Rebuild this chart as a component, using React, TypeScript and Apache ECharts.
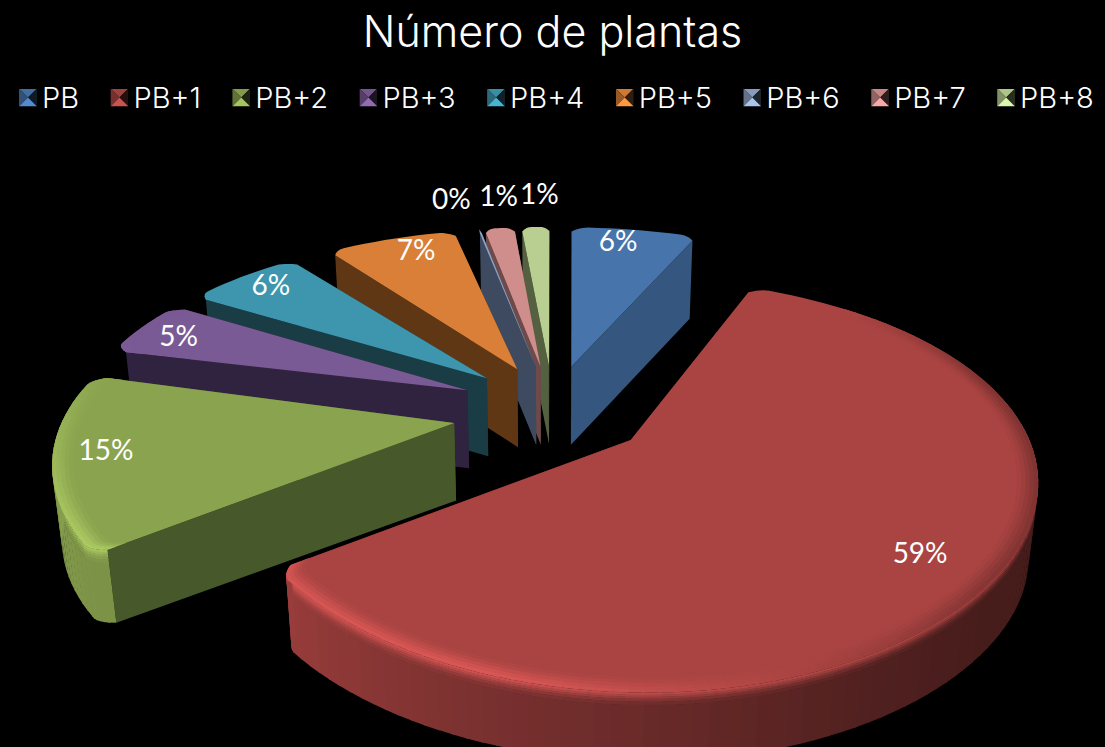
import React, { useEffect, useRef } from "react";
import * as echarts from "echarts";

const categories = ["PB", "PB+1", "PB+2", "PB+3", "PB+4", "PB+5", "PB+6", "PB+7", "PB+8"];
const values = [6.3, 59.0, 14.5, 5.0, 5.8, 6.5, 0.1, 1.5, 1.4];
const labels = ["6%", "59%", "15%", "5%", "6%", "7%", "0%", "1%", "1%"];
const faceColors = ["#4674ab", "#a94442", "#8aa34f", "#7a5a94", "#3d96ae", "#d97f38", "#8ea3c5", "#cf8e8c", "#b8cf91"];
const sideColors = ["#34567f", "#6b2a28", "#47582a", "#2f2340", "#1a3c45", "#5f3715", "#3d4a60", "#6f4a4a", "#546040"];

// label placement (fraction of radius along the slice's middle, then a nudge in px)
const labelRadius = [0.9, 0.84, 0.87, 0.88, 0.88, 0.78, 1.1, 1.1, 1.1];
const labelNudge = [[-11, -2], [-6, -5], [0, -7], [0, 0], [3, -4], [1, -15], [-23, -20], [3, -22], [5, -23]];
// small view-dependent corrections per slice (degrees of turn, and plane offsets)
const sliceTurn = [0.5, 0, -2, -3.5, -3.5, -1.5, 0, 0, 0];
const sliceShift = [[0, 0], [0, 0], [-0.005, 0.03], [0, 0], [0, 0], [0, 0], [0, 0], [0, 0], [0, 0]];

// projection of the pie's plane
const CX = 553, CY = 410, KX = 388, LY = 185, PX = 0.17, PY = 0.21;
const EXPLODE = 0.25, HEIGHT = 78, BOTTOM_X = 0.98, BEVEL = 0.95, STEP = 2;
const ROUND = 0.035, ROUND_SPAN = 3;

const wallTable = [[0, 0.6], [60, 0.45], [90, 0.42], [130, 0.42], [150, 0.47], [180, 0.62], [200, 0.72], [234, 0.9], [270, 1], [300, 0.95], [360, 0.7]];
const hiTable = [[0, 1], [90, 0.98], [120, 1.02], [150, 1.08], [180, 1.18], [200, 1.28], [234, 1.25], [260, 1.12], [290, 1], [360, 1]];
const wallBands = [[0, 0.03, 0.15], [0.03, 0.06, 0.35], [0.06, 0.09, 0.55], [0.09, 0.13, 0.75], [0.13, 0.18, 0.92], [0.18, 1, 1]];
const bevelBands = [[BEVEL, 0.96, 0.1], [0.96, 0.97, 0.3], [0.97, 0.98, 0.55], [0.98, 0.99, 0.8], [0.99, 1, 1]];

const lookup = (t: number[][], a: number) => {
  for (let i = 1; i < t.length; i++) {
    if (a <= t[i][0]) {
      const f = (a - t[i - 1][0]) / (t[i][0] - t[i - 1][0]);
      return t[i - 1][1] + f * (t[i][1] - t[i - 1][1]);
    }
  }
  return t[t.length - 1][1];
};
const rgb = (h: string) => [1, 3, 5].map((i) => parseInt(h.slice(i, i + 2), 16));
const css = (c: number[]) => `rgb(${c.map((x) => Math.max(0, Math.min(255, Math.round(x)))).join(",")})`;
const scale = (c: number[], m: number) => c.map((x) => x * m);
const mix = (a: number[], b: number[], f: number) => a.map((x, i) => x + (b[i] - x) * f);
const rad = (d: number) => (d * Math.PI) / 180;
const clamp01 = (x: number) => Math.max(0, Math.min(1, x));

const total = values.reduce((a, b) => a + b, 0);
type Slice = { i: number; a0: number; a1: number; mid: number };
const slices: Slice[] = (() => {
  let acc = 0;
  return values.map((v, i) => {
    const a0 = (acc / total) * 360;
    acc += v;
    const a1 = (acc / total) * 360;
    return { i, a0, a1, mid: (a0 + a1) / 2 };
  });
})();
const drawOrder = [...slices].sort((a, b) => Math.cos(rad(b.mid)) - Math.cos(rad(a.mid)));

const pointOf = (s: Slice, ang: number, r: number, h = 0) => {
  const u = EXPLODE * Math.sin(rad(s.mid)) + sliceShift[s.i][0] + r * Math.sin(rad(ang));
  const v = -EXPLODE * Math.cos(rad(s.mid)) + sliceShift[s.i][1] - r * Math.cos(rad(ang));
  let x = KX * u / (1 - PX * v);
  const y = CY + (LY * v) / (1 - PY * v) + h * HEIGHT * (1 - 0.1 * Math.max(v, 0));
  x = CX + x * (1 - h * (1 - BOTTOM_X));
  return [x, y];
};

const poly = (points: number[][], fill: string) => ({
  type: "polygon",
  silent: true,
  shape: { points },
  style: { fill },
});

const iconFor = (hex: string) => {
  const c = rgb(hex);
  const s = `<svg xmlns="http://www.w3.org/2000/svg" width="18" height="18"><polygon points="0,0 18,0 9,9" fill="${css(scale(c, 0.95))}"/><polygon points="0,0 9,9 0,18" fill="${css(scale(c, 0.7))}"/><polygon points="18,0 18,18 9,9" fill="${css(scale(c, 0.22))}"/><polygon points="0,18 18,18 9,9" fill="${css(scale(c, 1.2))}"/></svg>`;
  return "image://data:image/svg+xml;base64," + btoa(s);
};

const renderSlice = (s: Slice) => (_p: any, api: any) => {
  const share = api.value(0) / total;
  const a0 = s.a0 + sliceTurn[s.i];
  const a1 = a0 + share * 360;
  const face = rgb(faceColors[s.i]);
  const side = sideColors[s.i];
  const children: any[] = [];
  const apex = pointOf(s, 0, 0);
  const apexB = pointOf(s, 0, 0, 1);

  const span = Math.min(ROUND_SPAN, (a1 - a0) / 3);
  const rimR = (t: number) => {
    const d = Math.min(t - a0, a1 - t);
    const q = clamp01(1 - d / span);
    return 1 - ROUND * q * q;
  };

  const wide = a1 - a0 > 2 * span + STEP;
  const angs: number[] = [];
  if (wide) {
    for (let k = 0; k < 6; k++) angs.push(a0 + (span * k) / 6);
    const mids = Math.ceil((a1 - a0 - 2 * span) / STEP);
    for (let k = 0; k < mids; k++) angs.push(a0 + span + ((a1 - a0 - 2 * span) * k) / mids);
    for (let k = 0; k <= 6; k++) angs.push(a1 - span + (span * k) / 6);
  } else {
    const n = Math.max(2, Math.ceil((a1 - a0) / 0.5));
    for (let k = 0; k <= n; k++) angs.push(a0 + ((a1 - a0) * k) / n);
  }
  const n = angs.length - 1;

  children.push(poly([apex, pointOf(s, a0, rimR(a0)), pointOf(s, a0, rimR(a0), 1), apexB], side));
  children.push(poly([apex, pointOf(s, a1, rimR(a1)), pointOf(s, a1, rimR(a1), 1), apexB], side));

  for (let k = 0; k < n; k++) {
    const t0 = angs[k], m = (t0 + angs[k + 1]) / 2;
    if (m < 85 || m > 282) continue;
    const t1 = Math.min(a1, angs[k + 1] + 0.25);
    const r0 = rimR(t0), r1 = rimR(t1);
    const hi = scale(face, lookup(hiTable, m));
    const wall = scale(face, lookup(wallTable, m));
    for (const [h0, h1, f] of wallBands) {
      const hb = Math.min(1, h1 + 0.008);
      children.push(poly([pointOf(s, t0, r0, h0), pointOf(s, t1, r1, h0), pointOf(s, t1, r1, hb), pointOf(s, t0, r0, hb)], css(mix(hi, wall, f))));
    }
  }

  children.push(poly([apex, ...angs.map((t) => pointOf(s, t, rimR(t)))], faceColors[s.i]));

  for (let k = 0; k < n; k++) {
    const t0 = angs[k], m = (t0 + angs[k + 1]) / 2;
    if (m < 40 || m > 300) continue;
    const t1 = Math.min(a1, angs[k + 1] + 0.25);
    const r0 = rimR(t0), r1 = rimR(t1);
    const hi = scale(face, lookup(hiTable, m));
    const wall = scale(face, lookup(wallTable, m));
    const edge = mix(hi, wall, 0.4 * clamp01((190 - m) / 60));
    const fade = clamp01((m - 40) / 30) * clamp01((300 - m) / 20);
    for (const [b0, b1, f] of bevelBands) {
      const bb = b1 < 1 ? b1 + 0.002 : 1;
      children.push(poly([pointOf(s, t0, b0 * r0), pointOf(s, t1, b0 * r1), pointOf(s, t1, bb * r1), pointOf(s, t0, bb * r0)], css(mix(face, edge, f * fade))));
    }
  }

  const [lx, ly] = pointOf(s, (a0 + a1) / 2, labelRadius[s.i]);
  children.push({
    type: "text",
    silent: true,
    style: {
      x: lx + labelNudge[s.i][0],
      y: ly + labelNudge[s.i][1],
      text: labels[s.i],
      fill: "#ffffff",
      font: '28px Lato, "Noto Sans", sans-serif',
      align: "center",
      verticalAlign: "middle",
    },
  });
  return { type: "group", children };
};

export default function App() {
  const ref = useRef<HTMLDivElement>(null);
  useEffect(() => {
    document.body.style.margin = "0";
    document.body.style.background = "#000";
    const chart = echarts.init(ref.current!, undefined, { renderer: "svg" });
    chart.setOption({
      animation: false,
      backgroundColor: "#000000",
      title: {
        text: "Número de plantas",
        left: "center",
        top: 4,
        textStyle: { color: "#ffffff", fontSize: 43, fontWeight: 300, fontFamily: "Inter, Lato, sans-serif" },
      },
      legend: {
        left: 14,
        top: 78,
        itemWidth: 18,
        itemHeight: 18,
        itemGap: 31.4,
        width: 1090,
        selectedMode: false,
        textStyle: { color: "#ffffff", fontSize: 29, fontWeight: 300, fontFamily: "Inter, Lato, sans-serif" },
        data: categories.map((name, i) => ({ name, icon: iconFor(faceColors[i]) })),
      },
      series: drawOrder.map((s) => ({
        type: "custom",
        name: categories[s.i],
        coordinateSystem: "none",
        silent: true,
        itemStyle: { color: faceColors[s.i] },
        data: [[values[s.i]]],
        renderItem: renderSlice(s),
      })),
    });
    return () => chart.dispose();
  }, []);
  return <div ref={ref} style={{ position: "absolute", left: 0, top: 0, width: 1105, height: 747 }} />;
}
